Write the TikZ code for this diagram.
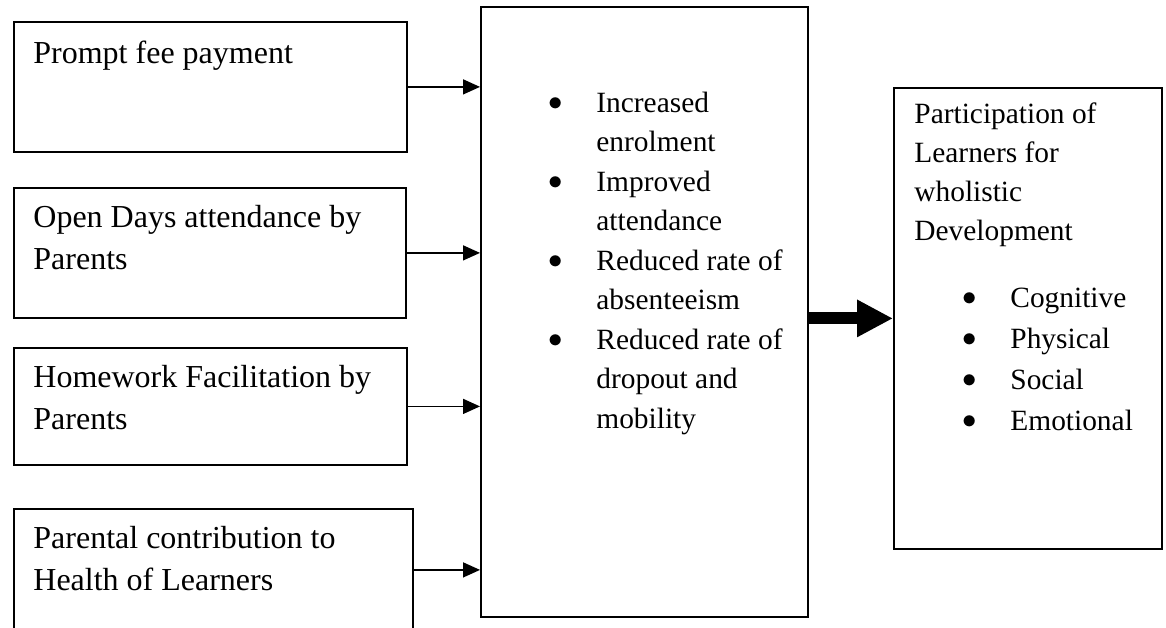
\documentclass[tikz,border=0pt]{standalone}
\usepackage{fontspec}
\setmainfont{Liberation Serif}
\usetikzlibrary{arrows.meta}

\newcommand\leftfont{\fontsize{16}{21}\selectfont}
\newcommand\midfont{\fontsize{14.7}{19.75}\selectfont}
\newcommand\headfont{\fontsize{14.7}{19.5}\selectfont}
\newcommand\listfont{\fontsize{14.7}{20.5}\selectfont}
\newcommand\dotmark{\raisebox{0.6pt}{$\bullet$}}

\tikzset{
  frame/.style={shape = rectangle, draw=black, line width=0.9pt, anchor=north west, inner sep=0pt},
  words/.style={anchor=base west, inner sep=0pt},
  feed/.style={-{Triangle[length=8.5pt,width=7.5pt]}, line width=0.75pt},
  bigfeed/.style={-{Triangle[length=18pt,width=17.5pt]}, line width=6pt}
}

\begin{document}
\begin{tikzpicture}[x=0.5pt,y=-0.5pt]
\useasboundingbox (0,0) rectangle (1166,627);

\node[frame, minimum width=196.5pt, minimum height=65pt](fee) at (13,21) {};
\node[frame, minimum width=196pt, minimum height=65pt](open) at (13,187) {};
\node[frame, minimum width=196.5pt, minimum height=58.5pt](home) at (13,347) {};
\node[frame, minimum width=199.5pt, minimum height=61pt](health) at (13,508) {};
\node[frame, minimum width=163.5pt, minimum height=305pt](res) at (480,6) {};
\node[frame, minimum width=134pt, minimum height=230.5pt](part) at (893,87) {};

\node[words, font=\leftfont](fee-t) at (33,63) {\begin{tabular}[t]{@{}l@{}}Prompt fee payment\end{tabular}};
\node[words, font=\leftfont](open-t) at (33,227) {\begin{tabular}[t]{@{}l@{}}Open Days attendance by\\Parents\end{tabular}};
\node[words, font=\leftfont](home-t) at (33,387) {\begin{tabular}[t]{@{}l@{}}Homework Facilitation by\\Parents\end{tabular}};
\node[words, font=\leftfont](health-t) at (33,548) {\begin{tabular}[t]{@{}l@{}}Parental contribution to\\Health of Learners\end{tabular}};

\node[words, font=\midfont](res-t) at (548,112) {\begin{tabular}[t]{@{}p{24pt}@{}l@{}}
\dotmark & Increased\\
 & enrolment\\
\dotmark & Improved\\
 & attendance\\
\dotmark & Reduced rate of\\
 & absenteeism\\
\dotmark & Reduced rate of\\
 & dropout and\\
 & mobility
\end{tabular}};

\node[words, font=\headfont](part-t) at (914,123) {\begin{tabular}[t]{@{}l@{}}Participation of\\Learners for\\wholistic\\Development\end{tabular}};
\node[words, font=\listfont](part-l) at (962,307) {\begin{tabular}[t]{@{}p{24pt}@{}l@{}}
\dotmark & Cognitive\\
\dotmark & Physical\\
\dotmark & Social\\
\dotmark & Emotional
\end{tabular}};

\path [feed] (fee.east) edge (fee.east -| res.west);
\path [feed] (open.east) edge (open.east -| res.west);
\path [feed] (home.east) edge (home.east -| res.west);
\path [feed] (health.east) edge (health.east -| res.west);
\path [bigfeed] (res.east |- part.west) edge (part.west);
\end{tikzpicture}
\end{document}
